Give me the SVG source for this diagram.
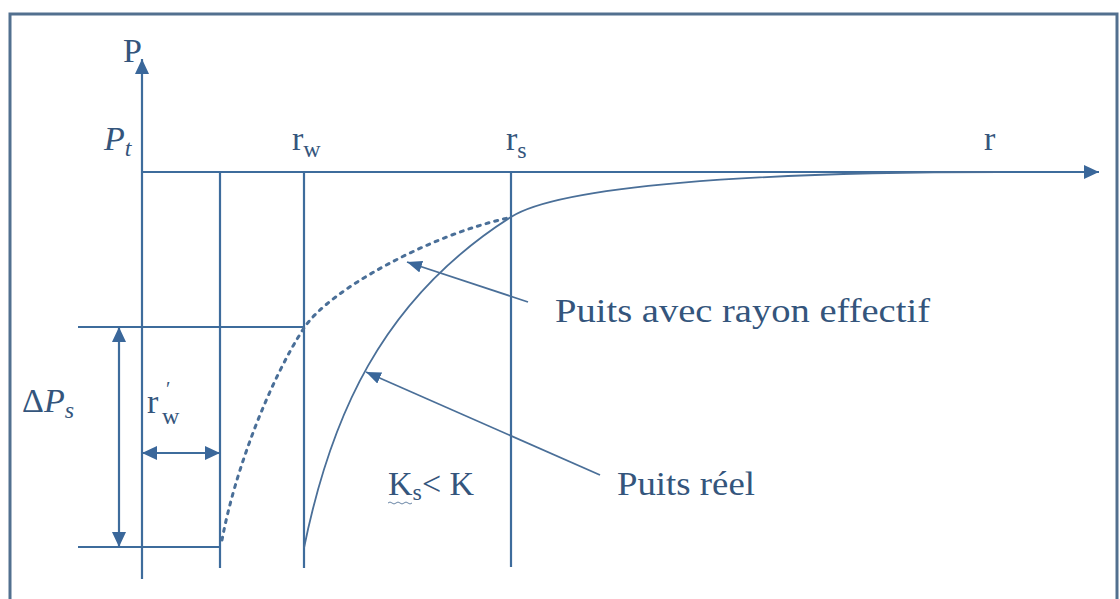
<svg xmlns="http://www.w3.org/2000/svg" width="1120" height="599" viewBox="0 0 1120 599">
<style>
.ln{stroke:#3e6c9c;stroke-width:2.2;fill:none}
.cv{stroke:#4a6f98;stroke-width:1.8;fill:none}
.ds{stroke:#4a6f98;stroke-width:3;fill:none;stroke-dasharray:3 6;stroke-linecap:round}
.t{font-family:"Liberation Serif","Times New Roman",Times,serif;fill:#34557c;font-size:34px}
.it{font-style:italic}
.sub{font-size:24px}
</style>
<defs>
<marker id="ah" markerUnits="userSpaceOnUse" markerWidth="16" markerHeight="14" refX="15" refY="7" orient="auto-start-reverse">
<path d="M0,0 L15,7 L0,14 z" fill="#3a679a"/>
</marker>
<marker id="ahs" markerUnits="userSpaceOnUse" markerWidth="16" markerHeight="14" refX="15" refY="6" orient="auto">
<path d="M0,0 L15,6 L0,12 z" fill="#3a679a"/>
</marker>
</defs>
<rect x="0" y="0" width="1120" height="599" fill="#ffffff"/>
<rect id="frame" x="10" y="14" width="1107" height="600" fill="none" stroke="#52708f" stroke-width="3"/>

<g id="axes">
<line class="ln" x1="142" y1="579" x2="142" y2="59" marker-end="url(#ah)"/>
<line class="ln" x1="142" y1="172" x2="1099" y2="172" marker-end="url(#ah)"/>
</g>

<g id="guides">
<line class="ln" x1="220" y1="172" x2="220" y2="568"/>
<line class="ln" x1="304" y1="172" x2="304" y2="568"/>
<line class="ln" x1="511" y1="172" x2="511" y2="567"/>
<line class="ln" x1="78" y1="327" x2="304" y2="327"/>
<line class="ln" x1="78" y1="547" x2="220" y2="547"/>
</g>

<g id="dimensions">
<line class="ln" x1="119" y1="327" x2="119" y2="547" marker-start="url(#ah)" marker-end="url(#ah)"/>
<line class="ln" x1="142" y1="453" x2="220" y2="453" marker-start="url(#ah)" marker-end="url(#ah)"/>
</g>

<g id="curves">
<path class="cv" d="M304,548 C330,420 380,300 511,217 C560,186 750,172 1000,172"/>
<path class="ds" d="M222,540 C235,470 270,380 304,328 C329,290 430,235 508,218"/>
</g>

<g id="connectors">
<line class="cv" x1="528" y1="302" x2="407" y2="262" marker-end="url(#ahs)"/>
<line class="cv" x1="600" y1="475" x2="366" y2="372" marker-end="url(#ahs)"/>
</g>

<g id="labels">
<text class="t" x="123" y="62">P</text>
<text class="t it" x="104" y="150">P<tspan class="sub" dy="6">t</tspan></text>
<text class="t" x="292" y="150">r<tspan class="sub" dy="7">w</tspan></text>
<text class="t" x="506" y="150">r<tspan class="sub" dy="8">s</tspan></text>
<text class="t" x="984" y="150">r</text>
<text class="t" x="22" y="412">Δ<tspan class="it">P</tspan><tspan class="sub it" dy="6">s</tspan></text>
<text class="t" x="147" y="413">r</text>
<text class="t" x="166" y="396" style="font-size:20px">′</text>
<text class="t sub" x="162" y="424">w</text>
<text class="t" x="388" y="495">K<tspan class="sub" dy="5">s</tspan><tspan dy="-5">&lt; K</tspan></text>
<path d="M388,503 q2,-2 4,0 t4,0 t4,0 t4,0 t4,0 t4,0" fill="none" stroke="#6a86a6" stroke-width="1"/>
<text class="t" x="555" y="322" textLength="375" lengthAdjust="spacingAndGlyphs">Puits avec rayon effectif</text>
<text class="t" x="617" y="495" textLength="138" lengthAdjust="spacingAndGlyphs">Puits réel</text>
</g>
</svg>
